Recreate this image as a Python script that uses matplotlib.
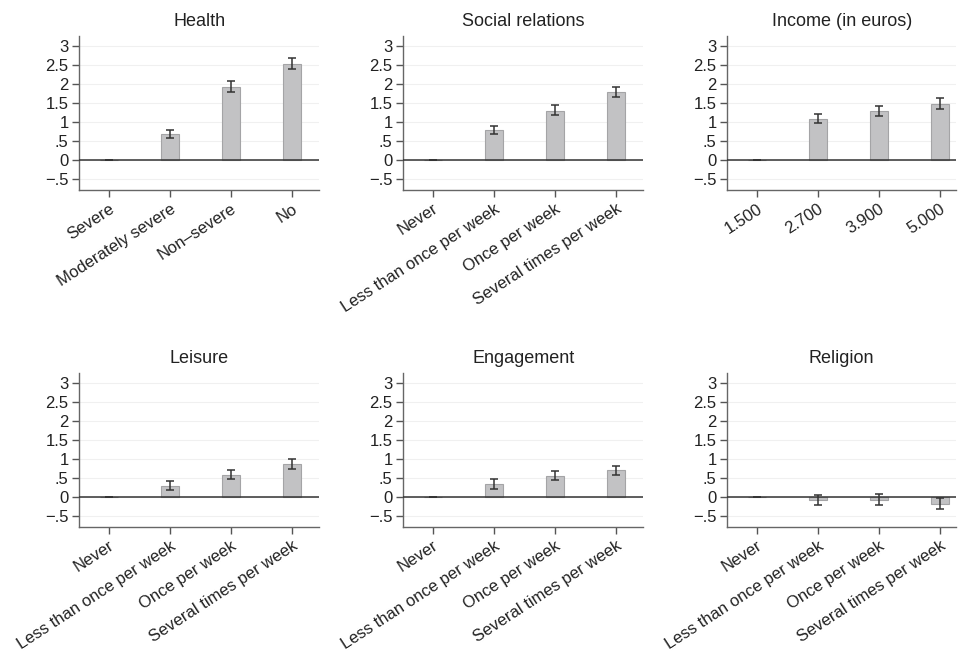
import numpy as np
import matplotlib.pyplot as plt

plt.rcParams['font.family'] = ['Liberation Sans', 'DejaVu Sans']

# category labels
health_cats = ['Severe', 'Moderately severe', 'Non\u2013severe', 'No']
freq_cats = ['Never', 'Less than once per week', 'Once per week', 'Several times per week']
income_cats = ['1.500', '2.700', '3.900', '5.000']

# estimates and confidence bounds
health = [0, 0.68, 1.93, 2.53]
health_lo = [0, 0.58, 1.78, 2.40]
health_hi = [0, 0.80, 2.08, 2.68]

social = [0, 0.78, 1.30, 1.78]
social_lo = [0, 0.67, 1.17, 1.65]
social_hi = [0, 0.90, 1.45, 1.93]

income = [0, 1.08, 1.28, 1.47]
income_lo = [0, 0.96, 1.15, 1.33]
income_hi = [0, 1.22, 1.43, 1.63]

leisure = [0, 0.30, 0.57, 0.86]
leisure_lo = [0, 0.18, 0.46, 0.74]
leisure_hi = [0, 0.42, 0.70, 1.01]

engage = [0, 0.335, 0.56, 0.71]
engage_lo = [0, 0.22, 0.44, 0.59]
engage_hi = [0, 0.46, 0.69, 0.82]

religion = [0, -0.07, -0.07, -0.18]
religion_lo = [0, -0.20, -0.21, -0.31]
religion_hi = [0, 0.06, 0.07, -0.04]

panels = [
    ('Health', health_cats, health, health_lo, health_hi),
    ('Social relations', freq_cats, social, social_lo, social_hi),
    ('Income (in euros)', income_cats, income, income_lo, income_hi),
    ('Leisure', freq_cats, leisure, leisure_lo, leisure_hi),
    ('Engagement', freq_cats, engage, engage_lo, engage_hi),
    ('Religion', freq_cats, religion, religion_lo, religion_hi),
]

W, H = 960, 655
fig = plt.figure(figsize=(W / 100, H / 100), dpi=100)

lefts = [79, 403, 727]
rights = [3.45, 3.45, 3.27]
tops = [36, 373]
ax_h = 154
px_per_unit = 61

yticks = [-0.5, 0, 0.5, 1, 1.5, 2, 2.5, 3]
ylabels = ['\u2212.5', '0', '.5', '1', '1.5', '2', '2.5', '3']

for i, (title, cats, est, lo, hi) in enumerate(panels):
    row, col = divmod(i, 3)
    xl, xr = -0.49, rights[col]
    w_px = (xr - xl) * px_per_unit
    ax = fig.add_axes([lefts[col] / W, 1 - (tops[row] + ax_h) / H, w_px / W, ax_h / H])
    x = np.arange(len(cats))
    est = np.array(est)
    ax.bar(x, est, width=0.3, color='#c2c2c4', edgecolor='#a4a4a6', linewidth=0.8, zorder=2)
    ax.axhline(0, color='#333333', lw=1.1, zorder=3)
    ax.errorbar(x, est, yerr=[est - np.array(lo), np.array(hi) - est], fmt='none',
                ecolor='#333333', elinewidth=1.1, capsize=3.2, capthick=1.1, zorder=4)
    ax.set_xlim(xl, xr)
    ax.set_ylim(-0.79, 3.26)
    ax.set_yticks(yticks)
    ax.set_yticklabels(ylabels, fontsize=12)
    ax.set_xticks(x)
    ax.set_xticklabels(cats, fontsize=12, rotation=33, ha='right', rotation_mode='anchor')
    ax.grid(axis='y', color='#f0f0f0', lw=0.8, zorder=0)
    ax.set_axisbelow(True)
    for s in ['top', 'right']:
        ax.spines[s].set_visible(False)
    for s in ['left', 'bottom']:
        ax.spines[s].set_color('#666666')
        ax.spines[s].set_linewidth(1.0)
    ax.tick_params(colors='#555555', labelcolor='#222222', length=5, width=1.0, pad=2.5)
    ax.tick_params(axis='x', pad=3)
    ax.set_title(title, fontsize=13, color='#222222', pad=7)

fig.savefig('out.png', dpi=100)
